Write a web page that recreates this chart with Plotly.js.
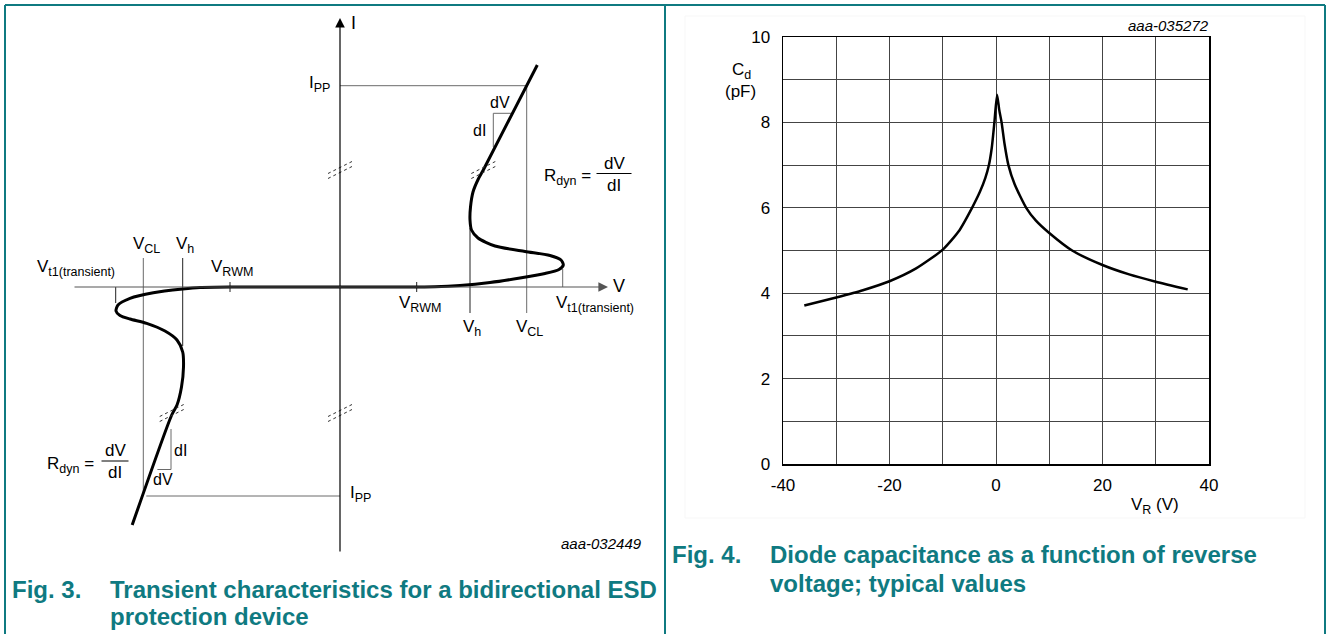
<!DOCTYPE html>
<html><head><meta charset="utf-8">
<script src="https://cdn.plot.ly/plotly-3.0.1.min.js"></script>
<style>html,body{margin:0;padding:0;background:#fff}#chart{width:1328px;height:634px}</style>
</head><body><div id="chart"></div>
<script>
// ---------- Fig. 3: schematic transient I-V curve (diagram units, origin at axis crossing) ----------
const curveV = [197.3, 143.3, 138.3, 133, 130.5, 130, 131.5, 138, 155, 185, 210, 221, 223.3, 219, 205, 180, 150, 120, 95, 75,
                -110, -140, -157.3, -186.7, -210, -222, -224, -220, -210, -193.3, -175, -163, -157.3, -156.5, -158.5, -163, -168.3, -207.8];
const curveI = [222, 117, 108, 95, 80, 67, 57, 49, 41, 35.5, 31.5, 27, 22, 17.5, 13.5, 9, 4.5, 1.5, 0.2, 0,
                0, -0.5, -2, -5.7, -11.3, -18, -24, -28.5, -32, -36.3, -44, -53, -65, -80, -100, -118, -128, -238];
// characteristic points (positive / negative polarity)
const vclPos = 186.7, vhPos = 130, vt1Pos = 222.7, vrwmPos = 76.7, ippPos = 201.3;
const vclNeg = -196.7, vhNeg = -157.3, vt1Neg = -224.3, vrwmNeg = -110, ippNeg = -209;
const breakV = [0, 143.3, 0, -168.3];
const breakI = [117, 117, -126, -126];

// ---------- Fig. 4: diode capacitance vs reverse voltage ----------
const vr = [-36, -30, -25, -20, -15, -10, -7, -4.5, -3, -2, -1.33, -0.8, -0.3, 0.2, 0.6, 1.05, 1.6, 2.33, 3.5, 5.67, 7.5, 10, 14.3, 20, 25, 30, 36];
const cd = [3.71, 3.9, 4.07, 4.28, 4.58, 5.02, 5.45, 6.0, 6.38, 6.7, 7.0, 7.4, 8.0, 8.65, 8.3, 8.0, 7.5, 7.0, 6.55, 6.0, 5.7, 5.41, 5.0, 4.66, 4.44, 4.27, 4.09];
const xTickVals = [-40, -20, 0, 20, 40];
const xTickText = ['-40', '-20', '0', '20', '40'];
const yTickVals = [0, 2, 4, 6, 8, 10];

const FONT = 'Liberation Sans, Arial, Helvetica, sans-serif';
const TEAL = '#0f7a81';
const GUIDE = '#6a6a6a';
const W = 1328, H = 634;

const traces = [];
function seg(xs, ys, color, width, dash) {
  traces.push({x: xs, y: ys, xaxis: 'x', yaxis: 'y', mode: 'lines', hoverinfo: 'skip', showlegend: false,
    line: {color: color, width: width, dash: dash || 'solid'}});
}
// guide lines
seg([0, vclPos], [ippPos, ippPos], GUIDE, 1);
seg([vclPos, vclPos], [ippPos, -26], GUIDE, 1);
seg([vhPos, vhPos], [59, -26], '#222', 1);
seg([vt1Pos, vt1Pos], [18, 0], GUIDE, 1);
seg([vrwmPos, vrwmPos], [5, -5], '#222', 1);
seg([vclNeg, vclNeg], [29, ippNeg], GUIDE, 1);
seg([vclNeg + 3, 0], [ippNeg, ippNeg], GUIDE, 1);
seg([vhNeg, vhNeg], [29, -59], '#222', 1);
seg([vt1Neg, vt1Neg], [0, -16], '#222', 1);
seg([vrwmNeg, vrwmNeg], [5, -5], '#222', 1);
// dV / dI triangles
seg([153.3, 153.3, 172.5], [140, 173.7, 173.7], GUIDE, 1);
seg([-169, -169, -182.6], [-142, -182.5, -182.5], GUIDE, 1);
// fraction bars of Rdyn = dV/dI
seg([256.5, 291.5], [113.5, 113.5], '#000', 1);
seg([-238.5, -211.5], [-174, -174], '#000', 1);
// the curve
traces.push({x: curveV, y: curveI, xaxis: 'x', yaxis: 'y', mode: 'lines', hoverinfo: 'skip', showlegend: false,
  line: {color: '#000', width: 3, shape: 'spline', smoothing: 0.7}});
// break marks
for (let k = 0; k < breakV.length; k++) {
  for (const off of [-2.5, 2.5]) {
    seg([breakV[k] - 12, breakV[k] + 12], [breakI[k] - 6 + off, breakI[k] + 6 + off], '#333', 1, 'dot');
  }
}

// Fig. 4 curve
traces.push({x: vr, y: cd, xaxis: 'x2', yaxis: 'y2', mode: 'lines', hoverinfo: 'skip', showlegend: false,
  line: {color: '#000', width: 2.5, shape: 'spline', smoothing: 0.6}});

function sb(t) { return '<sub><span style="font-size:12.5px">' + t + '</span></sub>'; }
function a(text, x, y, xanchor, yanchor, size, extra) {
  return Object.assign({text: text, x: x, y: y, xref: 'x', yref: 'y', xanchor: xanchor, yanchor: yanchor,
    showarrow: false, font: {family: FONT, size: size, color: '#000'}}, extra || {});
}
function p(text, px, py, xanchor, size) {
  return {text: text, x: px / W, y: 1 - py / H, xref: 'paper', yref: 'paper', xanchor: xanchor, yanchor: 'middle',
    showarrow: false, font: {family: FONT, size: size, color: '#000'}};
}
const annotations = [
  // axes arrows
  {x: 0, y: 269, ax: 0, ay: -266, xref: 'x', yref: 'y', axref: 'x', ayref: 'y', text: '', showarrow: true,
   arrowhead: 2, arrowsize: 1.6, arrowwidth: 1.2, arrowcolor: '#000'},
  {x: 268, y: 0, ax: -267, ay: 0, xref: 'x', yref: 'y', axref: 'x', ayref: 'y', text: '', showarrow: true,
   arrowhead: 2, arrowsize: 1.6, arrowwidth: 1.2, arrowcolor: '#555'},
  a('I', 9, 264, 'left', 'middle', 18),
  a('V', 271, 1, 'left', 'middle', 18),
  a('I' + sb('PP'), -8, 203, 'right', 'middle', 17),
  a('I' + sb('PP'), 8, -207, 'left', 'middle', 17),
  a('dV', 160, 185, 'center', 'middle', 16),
  a('dI', 139, 157, 'center', 'middle', 16),
  a('R' + sb('dyn') + ' =', 253, 110, 'right', 'middle', 17),
  a('dV', 274, 124, 'center', 'middle', 17),
  a('dI', 274, 102, 'center', 'middle', 17),
  a('V' + sb('RWM'), 80, -4, 'center', 'top', 17),
  a('V' + sb('t1(transient)'), 255, -4, 'center', 'top', 17),
  a('V' + sb('h'), 132, -28, 'center', 'top', 17),
  a('V' + sb('CL'), 189, -28, 'center', 'top', 17),
  a('V' + sb('CL'), -194, 29, 'center', 'bottom', 17),
  a('V' + sb('h'), -155, 29, 'center', 'bottom', 17),
  a('V' + sb('t1(transient)'), -264, 6, 'center', 'bottom', 17),
  a('V' + sb('RWM'), -108, 6, 'center', 'bottom', 17),
  a('dI', -160, -163, 'center', 'middle', 16),
  a('dV', -177, -192, 'center', 'middle', 16),
  a('R' + sb('dyn') + ' =', -244, -178, 'right', 'middle', 17),
  a('dV', -225, -163, 'center', 'middle', 17),
  a('dI', -225, -185, 'center', 'middle', 17),
  a('<i>aaa-032449</i>', 304, -256, 'right', 'middle', 15),
  // Fig. 4 labels
  p('C' + sb('d'), 741, 71, 'center', 17),
  p('(pF)', 740, 92, 'center', 17),
  p('V' + sb('R') + ' (V)', 1155, 506, 'center', 17),
  p('<i>aaa-035272</i>', 1211, 26, 'right', 15),
];
// captions
function cap(text, px, py) {
  return {text: '<b>' + text + '</b>', x: px / W, y: 1 - py / H, xref: 'paper', yref: 'paper', xanchor: 'left', yanchor: 'middle',
    showarrow: false, font: {family: FONT, size: 24, color: TEAL}};
}
annotations.push(cap('Fig. 3.', 10, 589));
annotations.push(cap('Transient characteristics for a bidirectional ESD', 108, 589));
annotations.push(cap('protection device', 108, 616));
annotations.push(cap('Fig. 4.', 670, 554));
annotations.push(cap('Diode capacitance as a function of reverse', 768, 554));
annotations.push(cap('voltage; typical values', 768, 583));

const frame = {type: 'line', xref: 'paper', yref: 'paper', line: {color: TEAL, width: 2}};
const shapes = [
  Object.assign({x0: 5 / W, x1: 1325 / W, y0: 1 - 5 / H, y1: 1 - 5 / H}, frame),
  Object.assign({x0: 5 / W, x1: 5 / W, y0: 0, y1: 1 - 5 / H}, frame),
  Object.assign({x0: 665 / W, x1: 665 / W, y0: 0, y1: 1 - 5 / H}, frame),
  Object.assign({x0: 1325 / W, x1: 1325 / W, y0: 0, y1: 1 - 5 / H}, frame),
  {type: 'rect', xref: 'paper', yref: 'paper', x0: 685 / W, x1: 1305 / W, y0: 1 - 518 / H, y1: 1 - 16 / H,
   line: {color: '#f7f7f7', width: 1}},
];

const gridC = '#444';
const layout = {
  width: W, height: H, margin: {l: 0, r: 0, t: 0, b: 0}, paper_bgcolor: '#fff', plot_bgcolor: 'rgba(0,0,0,0)',
  showlegend: false, font: {family: FONT, color: '#000'},
  xaxis: {domain: [0, 665 / W], range: [-340, 325], visible: false, fixedrange: true},
  yaxis: {domain: [0, 1], range: [-347, 287], visible: false, fixedrange: true},
  xaxis2: {domain: [783 / W, 1209 / W], range: [-40, 40], anchor: 'y2', tickmode: 'array', tickvals: xTickVals, ticktext: xTickText,
    showgrid: true, gridcolor: gridC, gridwidth: 1, zeroline: false, showline: true, mirror: true, linecolor: '#000', linewidth: 1.5,
    ticks: '', ticklabelstandoff: 5, tickfont: {family: FONT, size: 17, color: '#000'},
    minor: {dtick: 10, tick0: -40, showgrid: true, gridcolor: gridC, gridwidth: 1}},
  yaxis2: {domain: [1 - 464 / H, 1 - 37 / H], range: [0, 10], anchor: 'x2', tickmode: 'array', tickvals: yTickVals,
    showgrid: true, gridcolor: gridC, gridwidth: 1, zeroline: false, showline: true, mirror: true, linecolor: '#000', linewidth: 1.5,
    ticks: '', ticklabelstandoff: 8, tickfont: {family: FONT, size: 17, color: '#000'},
    minor: {dtick: 1, tick0: 0, showgrid: true, gridcolor: gridC, gridwidth: 1}},
  annotations: annotations, shapes: shapes,
};
Plotly.newPlot('chart', traces, layout, {staticPlot: true, displayModeBar: false});
</script></body></html>
